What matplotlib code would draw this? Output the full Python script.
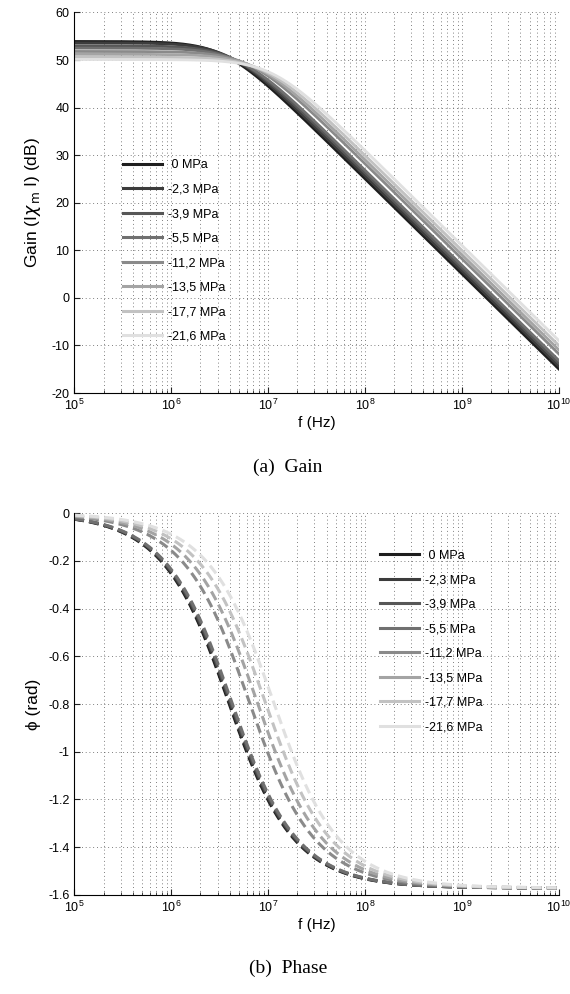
import numpy as np
import matplotlib
matplotlib.use("Agg")
import matplotlib.pyplot as plt
from matplotlib.lines import Line2D
from matplotlib.ticker import LogLocator, FixedLocator, FuncFormatter, NullFormatter

# ── Data ──────────────────────────────────────────────────────────────────────

pressure_labels = [" 0 MPa", "-2,3 MPa", "-3,9 MPa", "-5,5 MPa",
                   "-11,2 MPa", "-13,5 MPa", "-17,7 MPa", "-21,6 MPa"]
line_grays = ["#1e1e1e", "#3c3c3c", "#575757", "#707070",
              "#8a8a8a", "#a4a4a4", "#c2c2c2", "#e0e0e0"]

# low-frequency gain (dB) and -3 dB corner (Hz) per curve
gain_dc_db = [53.9, 53.6, 53.0, 52.5, 51.8, 51.2, 50.6, 50.1]
gain_corner_hz = [3.6e6, 4.0e6, 4.6e6, 5.2e6, 6.6e6, 7.8e6, 9.3e6, 1.11e7]
# phase corner (Hz) per curve (phase = -atan(f/fc))
phase_corner_hz = [3.85e6, 3.95e6, 4.05e6, 4.15e6, 6.3e6, 7.6e6, 9.2e6, 1.12e7]

gain_yticks = [-20, -10, 0, 10, 20, 30, 40, 50, 60]
phase_yticks = [-1.6, -1.4, -1.2, -1.0, -0.8, -0.6, -0.4, -0.2, 0.0]
freq = np.logspace(5, 10, 500)

# ── Style ─────────────────────────────────────────────────────────────────────

plt.rcParams["font.family"] = ["Liberation Sans", "DejaVu Sans"]
plt.rcParams["axes.unicode_minus"] = False
plt.rcParams["mathtext.fontset"] = "dejavusans"
GRID = dict(color="#555555", linestyle=(0, (1, 3.5)), linewidth=0.6)
LEG = dict(loc="upper left", frameon=False, fontsize=9, handlelength=3.1,
           handletextpad=0.5, labelspacing=1.0, borderpad=0, borderaxespad=0)


def style_axes(ax, yticks):
    ax.set_xscale("log")
    ax.set_xlim(1e5, 1e10)
    ax.set_ylim(yticks[0], yticks[-1])
    ax.yaxis.set_major_locator(FixedLocator(yticks))
    ax.yaxis.set_major_formatter(FuncFormatter(lambda v, _: f"{v:g}"))
    ax.xaxis.set_major_locator(LogLocator(base=10, numticks=12))
    ax.xaxis.set_minor_locator(LogLocator(base=10, subs=np.arange(2, 10), numticks=12))
    ax.xaxis.set_minor_formatter(NullFormatter())
    for s in ("top", "right"):
        ax.spines[s].set_visible(False)
    for s in ("left", "bottom"):
        ax.spines[s].set_linewidth(0.8)
    ax.tick_params(which="both", direction="in", labelsize=9, color="#222222")
    ax.tick_params(which="major", length=4)
    ax.tick_params(which="minor", length=2.5)
    ax.grid(True, which="major", axis="both", **GRID)
    ax.grid(True, which="minor", axis="x", **GRID)
    ax.set_axisbelow(True)
    ax.set_xlabel("f (Hz)", fontsize=11, labelpad=2)


def legend_handles():
    return [Line2D([], [], color=c, lw=2.2) for c in line_grays]


fig = plt.figure(figsize=(5.70, 9.94), dpi=100)

# ── Gain ──────────────────────────────────────────────────────────────────────

ax1 = fig.add_axes([0.1304, 0.6046, 0.8503, 0.3829])
for g0, fc, c in zip(gain_dc_db, gain_corner_hz, line_grays):
    ax1.plot(freq, g0 - 10 * np.log10(1 + (freq / fc) ** 2), color=c, lw=2.0)
style_axes(ax1, gain_yticks)
ax1.set_ylabel(r"Gain (I$\chi_{\,\mathrm{m}}$ I) (dB)", fontsize=12.5, labelpad=6)
ax1.legend(legend_handles(), pressure_labels, bbox_to_anchor=(0.1013, 0.614), **LEG)

# ── Phase ─────────────────────────────────────────────────────────────────────

ax2 = fig.add_axes([0.1304, 0.0996, 0.8503, 0.3843])
for fc, c in zip(phase_corner_hz, line_grays):
    ax2.plot(freq, -np.arctan(freq / fc), color=c, lw=2.2,
             linestyle=(0, (3.2, 1.7)))
style_axes(ax2, phase_yticks)
ax2.set_ylabel("\u03d5 (rad)", fontsize=12.5, labelpad=5)
ax2.legend(legend_handles(), pressure_labels, bbox_to_anchor=(0.6315, 0.904), **LEG)

# ── Captions ──────────────────────────────────────────────────────────────────

fig.text(0.505, 1 - 467 / 994, "(a)  Gain", ha="center", va="center",
         family="Liberation Serif", fontsize=14)
fig.text(0.505, 1 - 968 / 994, "(b)  Phase", ha="center", va="center",
         family="Liberation Serif", fontsize=14)

fig.savefig("out.png", dpi=100)
